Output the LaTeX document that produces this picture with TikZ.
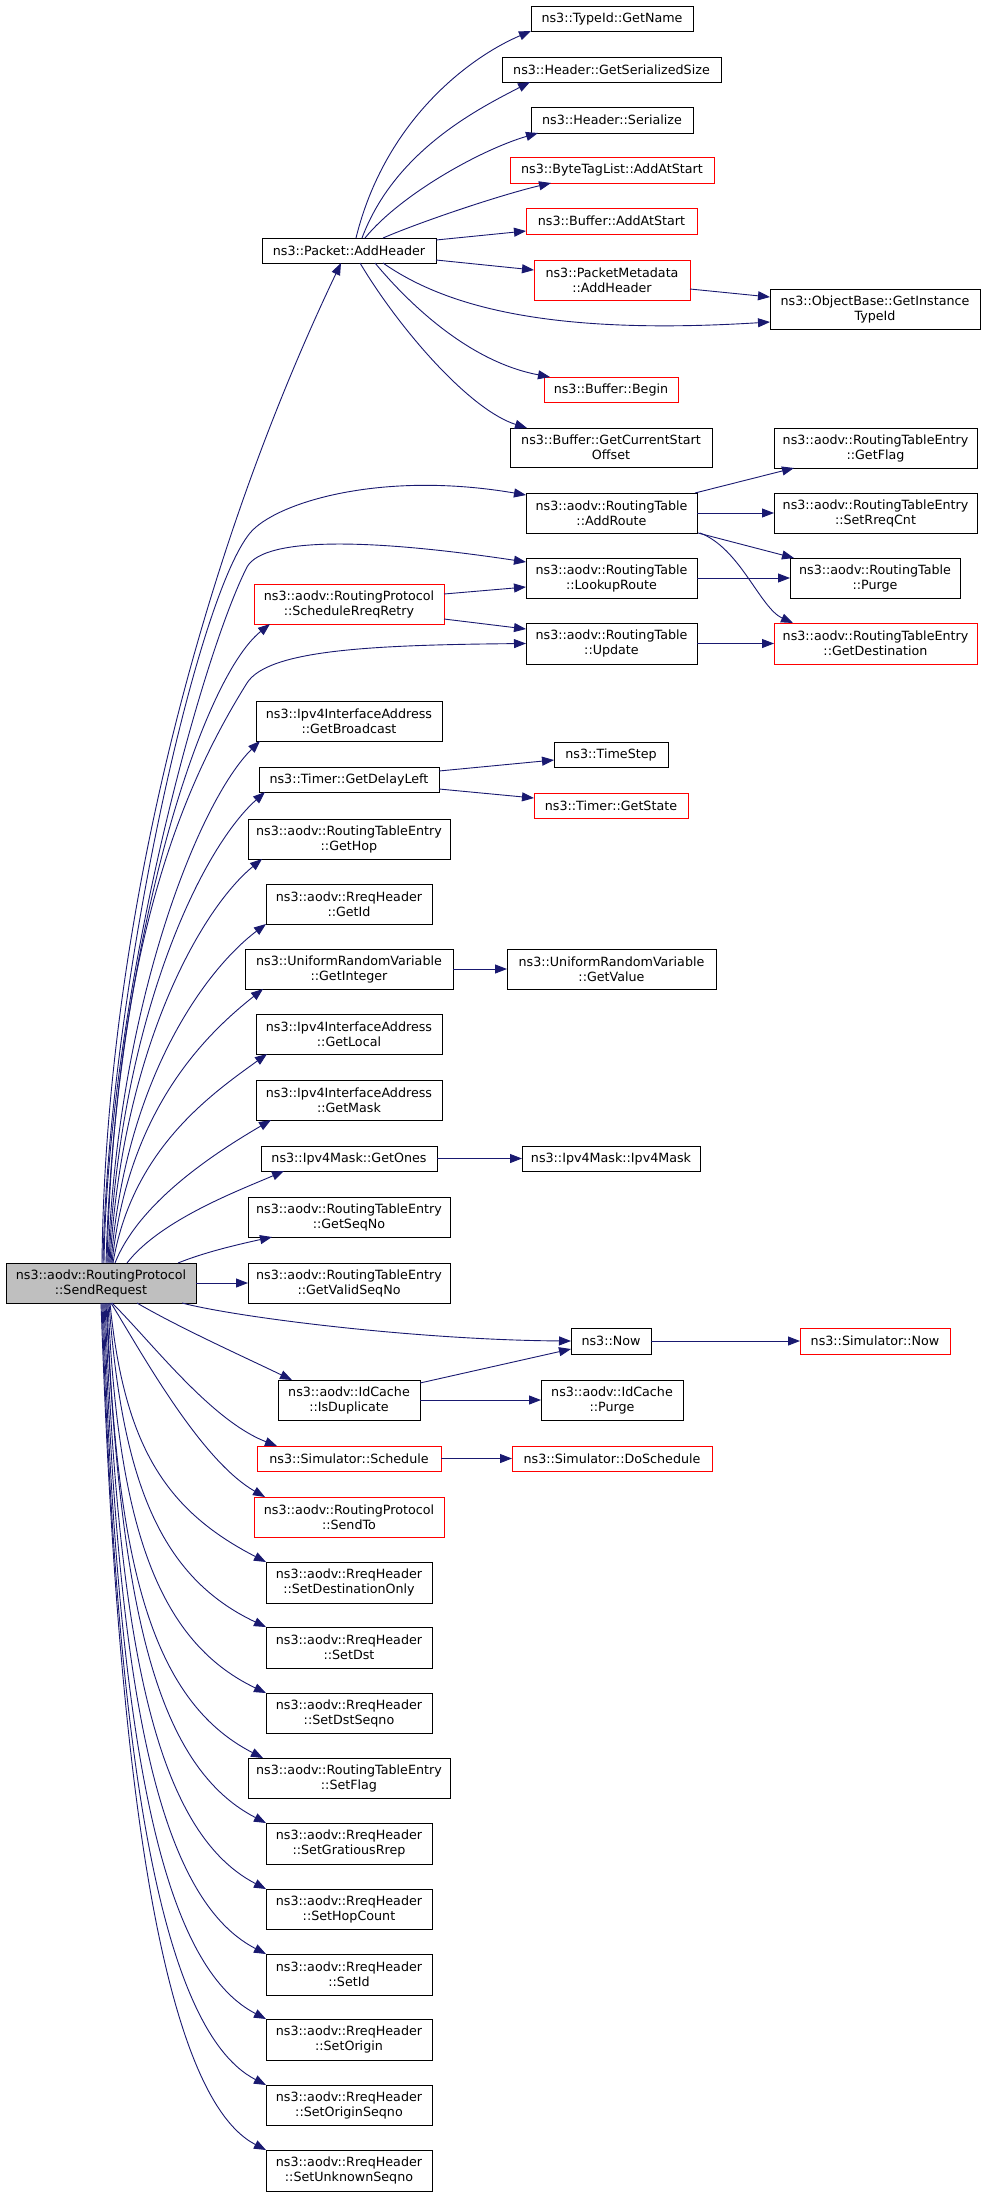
\documentclass[tikz,border=0pt]{standalone}
\usepackage{fontspec}
\setmainfont{DejaVu Sans}
\usetikzlibrary{arrows.meta,calc}
\definecolor{edgeblue}{HTML}{191970}
\definecolor{nodered}{HTML}{FF0000}
\definecolor{srgray}{HTML}{BFBFBF}
\newcommand{\mkbox}[7]{\node[#2, minimum width={(#5-#3)*1pt}, minimum height={(#6-#4)*1pt}] (#1) at ({(#3+#5)/2},{(#4+#6)/2}) {#7};}
\tikzset{
  box/.style={draw=black, line width=1pt, fill=white, inner sep=0pt, outer sep=0pt, align=center, font={\fontsize{12.7pt}{15pt}\selectfont}},
  redbox/.style={box, draw=nodered},
  graybox/.style={box, fill=srgray},
  call/.style={draw=edgeblue, line width=0.9pt, -{Triangle[length=12pt,width=9pt]}}
}
\begin{document}
\begin{tikzpicture}[x=1pt,y=-1pt]
\useasboundingbox[fill=white] (0,0) rectangle (987,2196);
\mkbox{tgn}{box}{531}{6}{693}{31}{ns3::TypeId::GetName}
\mkbox{hgs}{box}{502}{57}{721}{82}{ns3::Header::GetSerializedSize}
\mkbox{hse}{box}{531}{107}{693}{133}{ns3::Header::Serialize}
\mkbox{bta}{redbox}{510}{157}{714}{183}{ns3::ByteTagList::AddAtStart}
\mkbox{baa}{redbox}{526}{208}{697}{234}{ns3::Buffer::AddAtStart}
\mkbox{pah}{box}{262}{238}{436}{263}{ns3::Packet::AddHeader}
\mkbox{pma}{redbox}{534}{260}{690}{300}{ns3::PacketMetadata\\::AddHeader}
\mkbox{obg}{box}{770}{289}{980}{329}{ns3::ObjectBase::GetInstance\\TypeId}
\mkbox{bbe}{redbox}{544}{377}{678}{402}{ns3::Buffer::Begin}
\mkbox{bcs}{box}{510}{428}{712}{467}{ns3::Buffer::GetCurrentStart\\Offset}
\mkbox{gfl}{box}{774}{428}{977}{468}{ns3::aodv::RoutingTableEntry\\::GetFlag}
\mkbox{rar}{box}{526}{493}{697}{533}{ns3::aodv::RoutingTable\\::AddRoute}
\mkbox{src}{box}{774}{493}{977}{533}{ns3::aodv::RoutingTableEntry\\::SetRreqCnt}
\mkbox{rlr}{box}{526}{558}{697}{598}{ns3::aodv::RoutingTable\\::LookupRoute}
\mkbox{rpu}{box}{790}{558}{960}{598}{ns3::aodv::RoutingTable\\::Purge}
\mkbox{srr}{redbox}{254}{584}{444}{624}{ns3::aodv::RoutingProtocol\\::ScheduleRreqRetry}
\mkbox{rup}{box}{526}{623}{697}{664}{ns3::aodv::RoutingTable\\::Update}
\mkbox{gde}{redbox}{774}{623}{977}{664}{ns3::aodv::RoutingTableEntry\\::GetDestination}
\mkbox{gbc}{box}{256}{701}{442}{741}{ns3::Ipv4InterfaceAddress\\::GetBroadcast}
\mkbox{tst}{box}{554}{742}{668}{767}{ns3::TimeStep}
\mkbox{gdl}{box}{259}{767}{439}{792}{ns3::Timer::GetDelayLeft}
\mkbox{gst}{redbox}{534}{793}{688}{818}{ns3::Timer::GetState}
\mkbox{ghp}{box}{248}{819}{450}{859}{ns3::aodv::RoutingTableEntry\\::GetHop}
\mkbox{gid}{box}{266}{884}{432}{924}{ns3::aodv::RreqHeader\\::GetId}
\mkbox{gin}{box}{245}{949}{453}{989}{ns3::UniformRandomVariable\\::GetInteger}
\mkbox{gva}{box}{507}{949}{716}{989}{ns3::UniformRandomVariable\\::GetValue}
\mkbox{glo}{box}{256}{1014}{442}{1054}{ns3::Ipv4InterfaceAddress\\::GetLocal}
\mkbox{gma}{box}{256}{1080}{442}{1120}{ns3::Ipv4InterfaceAddress\\::GetMask}
\mkbox{gon}{box}{261}{1146}{437}{1171}{ns3::Ipv4Mask::GetOnes}
\mkbox{ima}{box}{522}{1146}{700}{1171}{ns3::Ipv4Mask::Ipv4Mask}
\mkbox{gsn}{box}{248}{1197}{450}{1237}{ns3::aodv::RoutingTableEntry\\::GetSeqNo}
\mkbox{sr}{graybox}{6}{1263}{196}{1303}{ns3::aodv::RoutingProtocol\\::SendRequest}
\mkbox{gvs}{box}{248}{1263}{450}{1303}{ns3::aodv::RoutingTableEntry\\::GetValidSeqNo}
\mkbox{now}{box}{571}{1328}{651}{1354}{ns3::Now}
\mkbox{snw}{redbox}{800}{1328}{950}{1354}{ns3::Simulator::Now}
\mkbox{isd}{box}{278}{1380}{420}{1420}{ns3::aodv::IdCache\\::IsDuplicate}
\mkbox{icp}{box}{541}{1380}{683}{1420}{ns3::aodv::IdCache\\::Purge}
\mkbox{ssc}{redbox}{257}{1446}{441}{1471}{ns3::Simulator::Schedule}
\mkbox{sds}{redbox}{512}{1446}{712}{1471}{ns3::Simulator::DoSchedule}
\mkbox{sto}{redbox}{254}{1497}{444}{1537}{ns3::aodv::RoutingProtocol\\::SendTo}
\mkbox{sdo}{box}{266}{1562}{432}{1603}{ns3::aodv::RreqHeader\\::SetDestinationOnly}
\mkbox{sdt}{box}{266}{1627}{432}{1668}{ns3::aodv::RreqHeader\\::SetDst}
\mkbox{sdq}{box}{266}{1693}{432}{1733}{ns3::aodv::RreqHeader\\::SetDstSeqno}
\mkbox{sfl}{box}{248}{1758}{450}{1798}{ns3::aodv::RoutingTableEntry\\::SetFlag}
\mkbox{sgr}{box}{266}{1823}{432}{1864}{ns3::aodv::RreqHeader\\::SetGratiousRrep}
\mkbox{shc}{box}{266}{1889}{432}{1929}{ns3::aodv::RreqHeader\\::SetHopCount}
\mkbox{sid}{box}{266}{1954}{432}{1995}{ns3::aodv::RreqHeader\\::SetId}
\mkbox{sor}{box}{266}{2019}{432}{2060}{ns3::aodv::RreqHeader\\::SetOrigin}
\mkbox{sos}{box}{266}{2085}{432}{2125}{ns3::aodv::RreqHeader\\::SetOriginSeqno}
\mkbox{sus}{box}{266}{2150}{432}{2191}{ns3::aodv::RreqHeader\\::SetUnknownSeqno}
% Packet::AddHeader callees
\draw[call] ($(pah.north west)+(94,0)$) .. controls (385,120) and (470,57) .. (tgn.south west);
\draw[call] ($(pah.north west)+(100,0)$) .. controls (395,150) and (480,108) .. ($(hgs.south west)+(28,0)$);
\draw[call] ($(pah.north west)+(103,0)$) .. controls (400,195) and (480,150) .. ($(hse.south west)+(7,0)$);
\draw[call] ($(pah.north west)+(121,0)$) .. controls (420,222) and (500,195) .. ($(bta.south west)+(41,0)$);
\draw[call] ($(pah.north east)+(0,2)$) -- ($(baa.south west)+(0,-3)$);
\draw[call] ($(pah.south east)+(0,-3)$) -- ($(pma.north west)+(0,10)$);
\draw[call] ($(pah.south west)+(121,0)$) .. controls (450,310) and (560,335) .. ($(obg.north west)+(0,33)$);
\draw[call] ($(pah.south west)+(113,0)$) .. controls (410,305) and (470,362) .. ($(bbe.north west)+(6,0)$);
\draw[call] ($(pah.south west)+(98,0)$) .. controls (400,330) and (470,410) .. ($(bcs.north west)+(17,0)$);
\draw[call] ($(pma.east)+(0,9)$) -- ($(obg.north west)+(0,8)$);
% RoutingTable edges
\draw[call] ($(rar.north east)+(-2,0)$) -- ($(gfl.south west)+(20,0)$);
\draw[call] (rar.east) -- (src.west);
\draw[call] ($(rar.south east)+(1,0)$) -- ($(rpu.north west)+(4,0)$);
\draw[call] ($(rar.south east)+(3,0)$) .. controls (740,548) and (760,608) .. ($(gde.north west)+(19,0)$);
\draw[call] (rlr.east) -- (rpu.west);
\draw[call] ($(srr.east)+(0,-10)$) -- ($(rlr.west)+(0,9)$);
\draw[call] ($(srr.south east)+(0,-5)$) -- ($(rup.north west)+(0,6)$);
\draw[call] (rup.east) -- (gde.west);
\draw[call] ($(gdl.north east)+(0,4)$) -- ($(tst.south west)+(0,-7)$);
\draw[call] ($(gdl.south east)+(0,-3)$) -- ($(gst.north west)+(0,5)$);
\draw[call] (gin.east) -- (gva.west);
\draw[call] (gon.east) -- (ima.west);
\draw[call] (now.east) -- (snw.west);
\draw[call] ($(isd.north east)+(0,3)$) -- ($(now.south west)+(0,-5)$);
\draw[call] (isd.east) -- (icp.west);
\draw[call] (ssc.east) -- (sds.west);
% SendRequest upward edges
\draw[call] ($(sr.north west)+(96,0)$) .. controls (105,950) and (190,580) .. ($(pah.south west)+(79,0)$);
\draw[call] ($(sr.north west)+(97,0)$) .. controls (108,1000) and (195,600) .. (250,533) .. controls (275,503) and (380,470) .. ($(rar.north west)+(0,2)$);
\draw[call] ($(sr.north west)+(98,0)$) .. controls (108,1000) and (200,660) .. (247,567) .. controls (265,535) and (380,540) .. ($(rlr.north west)+(0,4)$);
\draw[call] ($(sr.north west)+(100,0)$) .. controls (115,950) and (200,680) .. ($(srr.south west)+(16,0)$);
\draw[call] ($(sr.north west)+(101,0)$) .. controls (115,950) and (180,790) .. (247,683) .. controls (268,650) and (370,645) .. (rup.west);
\draw[call] ($(sr.north west)+(102,0)$) .. controls (118,1000) and (200,800) .. ($(gbc.south west)+(4,0)$);
\draw[call] ($(sr.north west)+(103,0)$) .. controls (120,1020) and (200,850) .. ($(gdl.south west)+(6,0)$);
\draw[call] ($(sr.north west)+(104,0)$) .. controls (122,1050) and (200,910) .. ($(ghp.south west)+(14,0)$);
\draw[call] ($(sr.north west)+(105,0)$) .. controls (125,1080) and (205,970) .. (gid.south west);
\draw[call] ($(sr.north west)+(106,0)$) .. controls (128,1110) and (205,1035) .. ($(gin.south west)+(18,0)$);
\draw[call] ($(sr.north west)+(107,0)$) .. controls (132,1150) and (210,1095) .. ($(glo.south west)+(11,0)$);
\draw[call] ($(sr.north west)+(109,0)$) .. controls (140,1200) and (220,1150) .. ($(gma.south west)+(15,0)$);
\draw[call] ($(sr.north west)+(121,0)$) .. controls (160,1220) and (240,1190) .. ($(gon.south west)+(23,0)$);
\draw[call] ($(sr.north west)+(172,0)$) .. controls (205,1252) and (240,1244) .. ($(gsn.south west)+(24,0)$);
\draw[call] (sr.east) -- (gvs.west);
% SendRequest downward edges
\draw[call] ($(sr.south west)+(176,0)$) .. controls (240,1318) and (420,1340) .. (now.west);
\draw[call] ($(sr.south west)+(131,0)$) .. controls (180,1328) and (240,1355) .. ($(isd.north west)+(14,0)$);
\draw[call] ($(sr.south west)+(106,0)$) .. controls (150,1340) and (210,1420) .. ($(ssc.north west)+(20,0)$);
\draw[call] ($(sr.south west)+(105,0)$) .. controls (140,1350) and (200,1460) .. ($(sto.north west)+(11,0)$);
\draw[call] ($(sr.south west)+(104,0)$) .. controls (124,1445) and (165,1510) .. (sdo.north west);
\draw[call] ($(sr.south west)+(103,0)$) .. controls (122,1481) and (160,1577) .. (sdt.north west);
\draw[call] ($(sr.south west)+(102,0)$) .. controls (118,1520) and (155,1640) .. (sdq.north west);
\draw[call] ($(sr.south west)+(101,0)$) .. controls (116,1560) and (150,1700) .. ($(sfl.north west)+(15,0)$);
\draw[call] ($(sr.south west)+(100,0)$) .. controls (120,1589) and (150,1763) .. (sgr.north west);
\draw[call] ($(sr.south west)+(99,0)$) .. controls (118,1625) and (150,1829) .. (shc.north west);
\draw[call] ($(sr.south west)+(98,0)$) .. controls (117,1660) and (150,1894) .. (sid.north west);
\draw[call] ($(sr.south west)+(97,0)$) .. controls (116,1690) and (150,1959) .. (sor.north west);
\draw[call] ($(sr.south west)+(96,0)$) .. controls (115,1700) and (150,2025) .. (sos.north west);
\draw[call] ($(sr.south west)+(95,0)$) .. controls (115,1700) and (150,2090) .. (sus.north west);
\end{tikzpicture}
\end{document}
